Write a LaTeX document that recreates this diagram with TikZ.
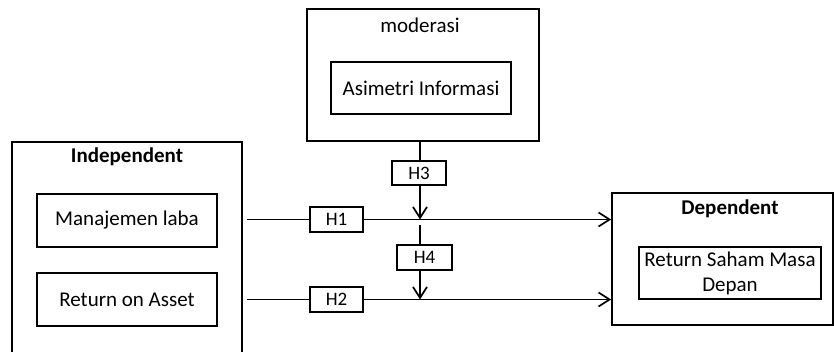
\documentclass[tikz,border=0pt]{standalone}
\usepackage{fontspec}
\setmainfont{Carlito}
\usetikzlibrary{arrows.meta,calc}
\begin{document}
\begin{tikzpicture}[x=1pt,y=-1pt,
  box/.style={draw,line width=1.7pt,inner sep=0pt,align=center,
    font=\fontsize{21}{25}\selectfont},
  hbox/.style={draw,line width=1.7pt,fill=white,inner sep=0pt,
    font=\fontsize{19}{22}\selectfont},
  title/.style={inner sep=0pt,font=\fontsize{21}{25}\selectfont},
  conn/.style={line width=1.7pt},
  arr/.style={line width=1.7pt,-{Straight Barb[length=11pt,width=14pt,line width=1.7pt]}}]
\useasboundingbox (0,0) rectangle (834,351);
% boxes
\node[box,minimum width=232pt,minimum height=132pt] (mod) at (423,75) {};
\node[title] (modt) at (420,25) {moderasi};
\node[box,minimum width=180pt,minimum height=52pt] (asi) at (421,88) {Asimetri Informasi};
\node[box,minimum width=230pt,minimum height=218pt] (ind) at (127,251) {};
\node[title,font=\fontsize{21}{25}\selectfont\bfseries] (indt) at (127,157) {Independent};
\node[box,minimum width=180pt,minimum height=53pt] (man) at (127,220.5) {Manajemen laba};
\node[box,minimum width=180pt,minimum height=53pt] (roa) at (127,299.5) {Return on Asset};
\node[box,minimum width=221pt,minimum height=132pt] (dep) at (722.5,259) {};
\node[title,font=\fontsize{21}{25}\selectfont\bfseries] (dept) at (730,209) {Dependent};
\node[box,minimum width=182pt,minimum height=52pt] (rsm) at (730,273) {Return Saham Masa\\Depan};
% hypothesis labels
\node[hbox,minimum width=53pt,minimum height=25pt] (h1) at (336.5,219.5) {H1};
\node[hbox,minimum width=53pt,minimum height=25pt] (h2) at (336.5,299.5) {H2};
\node[hbox,minimum width=54pt,minimum height=24pt] (h3) at (419,173) {H3};
\node[hbox,minimum width=55pt,minimum height=25pt] (h4) at (424.5,257.5) {H4};
% helper coordinates
\coordinate (vx) at (420,0);
\coordinate (s1) at ($(ind.east |- h1.west)+(4pt,0)$);
\coordinate (s2) at ($(ind.east |- h2.west)+(4pt,0)$);
\coordinate (h4s) at (420,225);
% connectors
\draw[conn] (s1) -- (h1.west);
\draw[arr] (h1.east) -- (dep.west |- h1.east);
\draw[conn] (s2) -- (h2.west);
\draw[arr] (h2.east) -- (dep.west |- h2.east);
\draw[conn] (vx |- mod.south) -- (vx |- h3.north);
\draw[arr] (vx |- h3.south) -- (vx |- h1.east);
\draw[conn] (h4s) -- (vx |- h4.north);
\draw[arr] (vx |- h4.south) -- (vx |- h2.east);
\end{tikzpicture}
\end{document}
